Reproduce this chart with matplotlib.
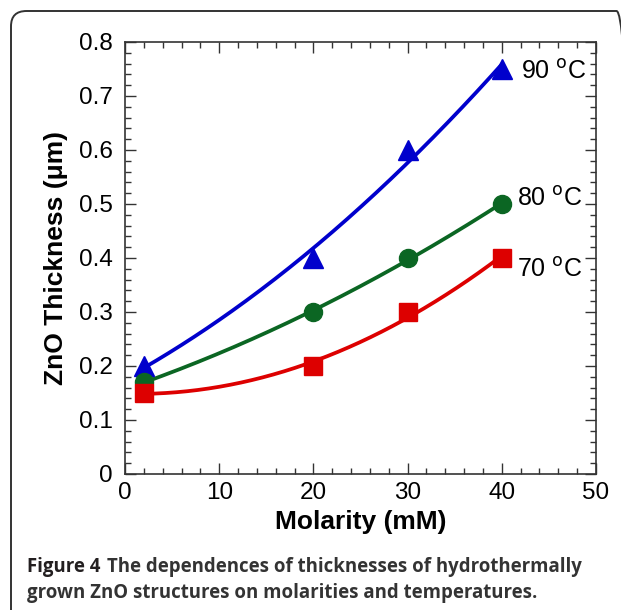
import matplotlib.pyplot as plt
import numpy as np
from matplotlib.patches import FancyBboxPatch
from matplotlib.ticker import MultipleLocator

plt.rcParams['font.family'] = ['Liberation Sans', 'DejaVu Sans']

# data
molarity = [2, 20, 30, 40]
t90 = [0.20, 0.40, 0.60, 0.75]
t80 = [0.17, 0.30, 0.40, 0.50]
t70 = [0.15, 0.20, 0.30, 0.40]
series_labels = ['90 $^{\\rm o}$C', '80 $^{\\rm o}$C', '70 $^{\\rm o}$C']

fig = plt.figure(figsize=(6.21, 6.10), dpi=100)

# rounded frame around the figure
frame = FancyBboxPatch((11 / 621, -0.05), 1.0, 1.05 - 11 / 610,
                       boxstyle="round,pad=0,rounding_size=0.025",
                       transform=fig.transFigure, fill=False,
                       edgecolor='#333333', linewidth=1.4, clip_on=False)
fig.patches.append(frame)

ax = fig.add_axes([125 / 621, 136 / 610, 471 / 621, 432 / 610])

xs = np.linspace(2, 40, 200)
styles = [(t90, '#0000CC', '^', 15), (t80, '#0B6623', 'o', 13), (t70, '#DD0000', 's', 13)]
for ys, col, mk, ms in styles:
    coef = np.polyfit(molarity, ys, 2)
    ax.plot(xs, np.polyval(coef, xs), color=col, lw=2.7, zorder=2)
    ax.plot(molarity, ys, ls='none', marker=mk, ms=ms, color=col, zorder=3)

ax.text(42.0, 0.744, series_labels[0], fontsize=18, va='center', ha='left')
ax.text(41.6, 0.509, series_labels[1], fontsize=18, va='center', ha='left')
ax.text(41.6, 0.378, series_labels[2], fontsize=18, va='center', ha='left')

ax.set_xlim(0, 50)
ax.set_ylim(0, 0.8)
ax.xaxis.set_major_locator(MultipleLocator(10))
ax.xaxis.set_minor_locator(MultipleLocator(2))
ax.yaxis.set_major_locator(MultipleLocator(0.1))
ax.yaxis.set_minor_locator(MultipleLocator(0.02))
ax.set_yticks(np.arange(0, 0.81, 0.1))
ax.set_yticklabels(['0'] + ['%.1f' % v for v in np.arange(0.1, 0.81, 0.1)])
ax.tick_params(which='both', direction='in', top=True, right=True, labelsize=17.5, color='#333333')
ax.tick_params(which='major', length=8, width=1)
ax.tick_params(which='minor', length=4, width=1)
ax.tick_params(axis='x', pad=6)
ax.tick_params(axis='y', pad=9)
for s in ax.spines.values():
    s.set_linewidth(1.2)
    s.set_color('#333333')

ax.set_xlabel('Molarity (mM)', fontsize=19, fontweight='bold', labelpad=4)
ax.set_ylabel('ZnO Thickness (μm)', fontsize=19, fontweight='bold', labelpad=8)

fig.text(27 / 621, 1 - 567 / 610, 'Figure 4', fontsize=13.4, fontweight='bold',
         family='Open Sans', color='#231f20', va='center')
fig.text(107 / 621, 1 - 567 / 610, 'The dependences of thicknesses of hydrothermally',
         fontsize=13.4, fontweight='bold', family='Open Sans', color='#333333', va='center')
fig.text(27 / 621, 1 - 593 / 610, 'grown ZnO structures on molarities and temperatures.',
         fontsize=13.4, fontweight='bold', family='Open Sans', color='#333333', va='center')

fig.savefig('out.png', dpi=100)
